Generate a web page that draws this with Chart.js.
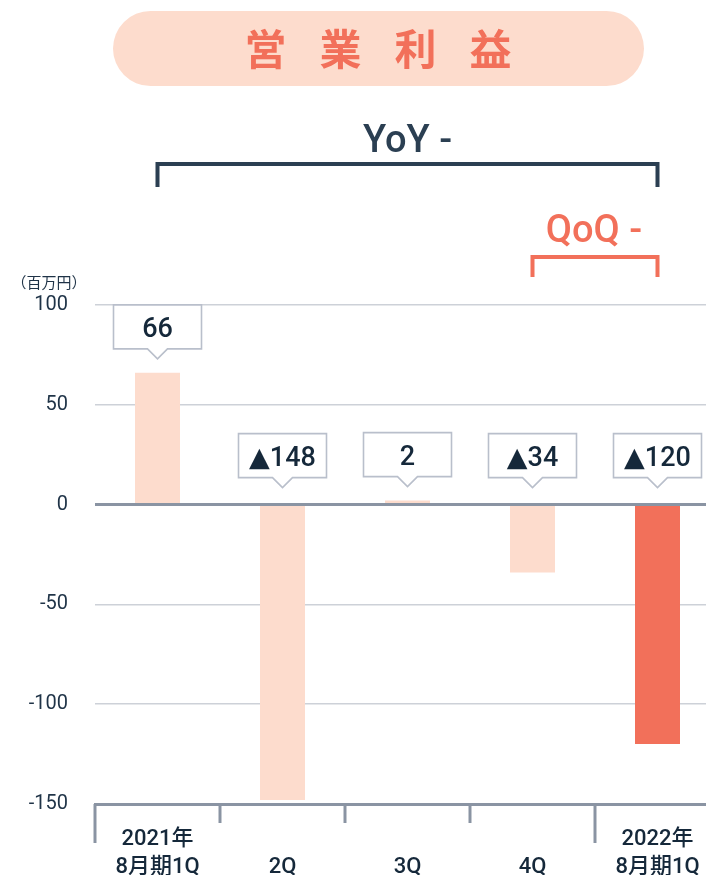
<!DOCTYPE html>
<html><head><meta charset="utf-8">
<script src="https://cdn.jsdelivr.net/npm/chart.js@4"></script>
<style>
html,body{margin:0;padding:0;background:#fff;overflow:hidden;width:706px;height:875px}
#wrap{position:relative;width:740px;height:875px}
canvas{display:block}
</style></head><body>
<div id="wrap"><canvas id="c" width="740" height="875"></canvas></div>
<script>
const categories = [['2021年','8月期1Q'], ['','2Q'], ['','3Q'], ['','4Q'], ['2022年','8月期1Q']];
const values = [66, -148, 2, -34, -120];
const barColors = ['#FDDCCD','#FDDCCD','#FDDCCD','#FDDCCD','#F2705A'];
const yTickValues = [100, 50, 0, -50, -100, -150];
const titleText = '営業利益';
const yoyText = 'YoY -';
const qoqText = 'QoQ -';
const unitText = '（百万円）';

const NAVY = '#1F3347';
const AXIS = '#8A94A3';
const GRID = '#CDD1D8';
const RED = '#F2705A';

const deco = {
  id: 'deco',
  afterDraw(chart) {
    const ctx = chart.ctx, xs = chart.scales.x, ys = chart.scales.y;
    ctx.save();
    // title pill
    const px = 113, py = 11, pw = 531, ph = 75, r = ph / 2;
    ctx.fillStyle = '#FDDCCD';
    ctx.beginPath();
    ctx.moveTo(px + r, py);
    ctx.lineTo(px + pw - r, py);
    ctx.arc(px + pw - r, py + r, r, -Math.PI / 2, Math.PI / 2);
    ctx.lineTo(px + r, py + ph);
    ctx.arc(px + r, py + r, r, Math.PI / 2, Math.PI * 1.5);
    ctx.closePath();
    ctx.fill();
    ctx.fillStyle = RED;
    ctx.font = 'bold 42px "Noto Sans CJK JP"';
    ctx.textAlign = 'center';
    ctx.textBaseline = 'middle';
    const chars = Array.from(titleText);
    chars.forEach((ch, i) => {
      ctx.fillText(ch, 378 + (i - (chars.length - 1) / 2) * 75, 49);
    });

    // brackets
    const x0 = xs.getPixelForValue(0), x3 = xs.getPixelForValue(3), x4 = xs.getPixelForValue(4);
    ctx.lineWidth = 4;
    ctx.lineCap = 'butt';
    ctx.strokeStyle = '#2B3F52';
    ctx.beginPath();
    ctx.moveTo(x0, 187); ctx.lineTo(x0, 164); ctx.lineTo(x4, 164); ctx.lineTo(x4, 187);
    ctx.stroke();
    ctx.fillStyle = '#2B3F52';
    ctx.font = '500 38px Roboto';
    ctx.textBaseline = 'alphabetic';
    ctx.fillText(yoyText, (x0 + x4) / 2, 152);

    ctx.strokeStyle = RED;
    ctx.beginPath();
    ctx.moveTo(x3, 277); ctx.lineTo(x3, 257); ctx.lineTo(x4, 257); ctx.lineTo(x4, 277);
    ctx.stroke();
    ctx.fillStyle = RED;
    ctx.fillText(qoqText, (x3 + x4) / 2 - 1, 242);

    // unit
    ctx.fillStyle = NAVY;
    ctx.font = '15px "Noto Sans CJK JP"';
    ctx.textAlign = 'center';
    ctx.fillText(unitText, 49, 288);

    // x tick marks
    const half = (xs.getPixelForValue(1) - xs.getPixelForValue(0)) / 2;
    const axisY = ys.getPixelForValue(-150);
    ctx.strokeStyle = AXIS;
    ctx.lineWidth = 3;
    for (let i = 0; i < values.length; i++) {
      const bx = xs.getPixelForValue(i) - half;
      const long = categories[i][0] !== '';
      ctx.beginPath();
      ctx.moveTo(bx, axisY);
      ctx.lineTo(bx, long ? 843 : 823);
      ctx.stroke();
    }

    // value callouts
    values.forEach((v, i) => {
      const cx = xs.getPixelForValue(i);
      const top = ys.getPixelForValue(Math.max(v, 0));
      const tip = top - (v > 0 ? 14 : 17);
      const bb = tip - 10, bt = bb - 44, bl = cx - 44, br = cx + 44;
      ctx.fillStyle = '#fff';
      ctx.strokeStyle = '#B9BFCB';
      ctx.lineWidth = 1.6;
      ctx.beginPath();
      ctx.moveTo(bl, bt); ctx.lineTo(br, bt); ctx.lineTo(br, bb);
      ctx.lineTo(cx + 10, bb); ctx.lineTo(cx, tip); ctx.lineTo(cx - 10, bb);
      ctx.lineTo(bl, bb); ctx.closePath();
      ctx.fill(); ctx.stroke();
      const txt = v < 0 ? '▲' + Math.abs(v) : String(v);
      ctx.fillStyle = '#15283A';
      ctx.font = '500 27px Roboto, "DejaVu Sans"';
      ctx.textAlign = 'center';
      ctx.textBaseline = 'alphabetic';
      ctx.fillText(txt, cx, bb - 12);
    });
    ctx.restore();
  }
};

new Chart(document.getElementById('c'), {
  type: 'bar',
  data: {
    labels: categories,
    datasets: [{
      data: values,
      backgroundColor: barColors,
      borderWidth: 0,
      barPercentage: 0.36,
      categoryPercentage: 1
    }]
  },
  options: {
    responsive: false,
    animation: false,
    layout: { padding: { top: 305, right: 20, left: 0, bottom: 0 } },
    plugins: { legend: { display: false }, tooltip: { enabled: false } },
    scales: {
      x: {
        grid: { display: false, drawTicks: false },
        border: { display: true, color: AXIS, width: 3 },
        ticks: {
          color: '#15283A',
          font: { family: 'Roboto, "Noto Sans CJK JP"', size: 22, weight: '500', lineHeight: 1.3 },
          padding: 21,
          maxRotation: 0,
          autoSkip: false
        },
        afterFit(s) { s.height = 71; }
      },
      y: {
        min: -150, max: 100,
        afterBuildTicks(s) { s.ticks = yTickValues.map(v => ({ value: v })); },
        grid: {
          drawTicks: false,
          color: c => (c.tick && (c.tick.value === 0 || c.tick.value === -150)) ? AXIS : GRID,
          lineWidth: c => (c.tick && (c.tick.value === 0 || c.tick.value === -150)) ? 3 : 1.6
        },
        border: { display: false },
        ticks: {
          color: NAVY,
          font: { family: 'Roboto', size: 20 },
          padding: 27
        },
        afterFit(s) { s.width = 95; }
      }
    }
  },
  plugins: [deco]
});
</script>
</body></html>
